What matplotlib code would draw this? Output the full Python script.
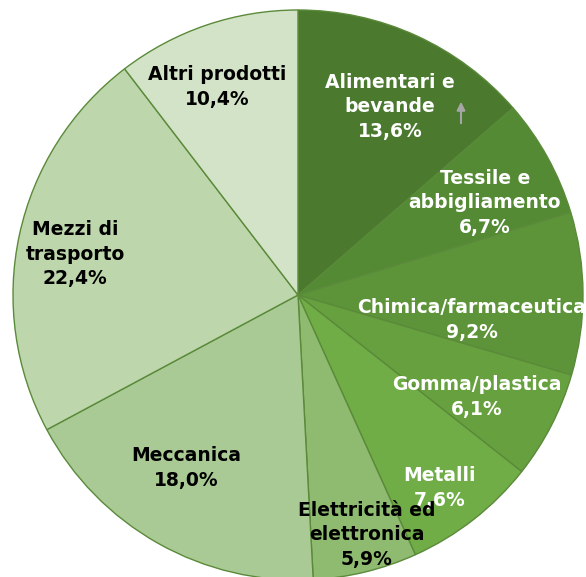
import matplotlib
matplotlib.use("Agg")
import matplotlib.pyplot as plt

# share of exports by sector (%)
labels = ["Alimentari e\nbevande", "Tessile e\nabbigliamento", "Chimica/farmaceutica",
          "Gomma/plastica", "Metalli", "Elettricità ed\nelettronica", "Meccanica",
          "Mezzi di\ntrasporto", "Altri prodotti"]
values = [13.6, 6.7, 9.2, 6.1, 7.6, 5.9, 18.0, 22.4, 10.4]
colors = ["#4b7a2f", "#548a34", "#5e9439", "#67a03e", "#70ad47",
          "#8fbb70", "#a9ca94", "#bdd6ab", "#d3e3c7"]
text_colors = ["white"] * 5 + ["black"] * 4

# label anchor points (pixels in a 586x577 image)
label_px = [(390, 107), (485, 203), (472, 320), (477, 397), (440, 488),
            (367, 535), (186, 468), (75, 254), (217, 87)]

W, H = 586, 577
cx, cy, R = 298, 295, 285

fig = plt.figure(figsize=(W / 100, H / 100), dpi=100)
ax = fig.add_axes([0, 0, 1, 1])
ax.pie(values, colors=colors, startangle=90, counterclock=False,
       radius=1, wedgeprops=dict(edgecolor="#5a8a3a", linewidth=1))
ax.set_xlim(-cx / R, (W - cx) / R)
ax.set_ylim(-(H - cy) / R, cy / R)
ax.set_aspect("auto")
ax.axis("off")

def to_data(px, py):
    return (px - cx) / R, (cy - py) / R

for lab, v, (px, py), tc in zip(labels, values, label_px, text_colors):
    x, y = to_data(px, py)
    s = lab + "\n" + ("%.1f%%" % v).replace(".", ",")
    ax.text(x, y, s, ha="center", va="center", color=tc, fontsize=13.5,
            fontweight="bold", family="DejaVu Sans", linespacing=1.38)

# small grey arrow next to the first label
ax.annotate("", xy=to_data(461, 99), xytext=to_data(461, 126),
            arrowprops=dict(arrowstyle="-|>", color="#a6a6a6", lw=1.5,
                            mutation_scale=12))

fig.savefig("out.png", dpi=100)
